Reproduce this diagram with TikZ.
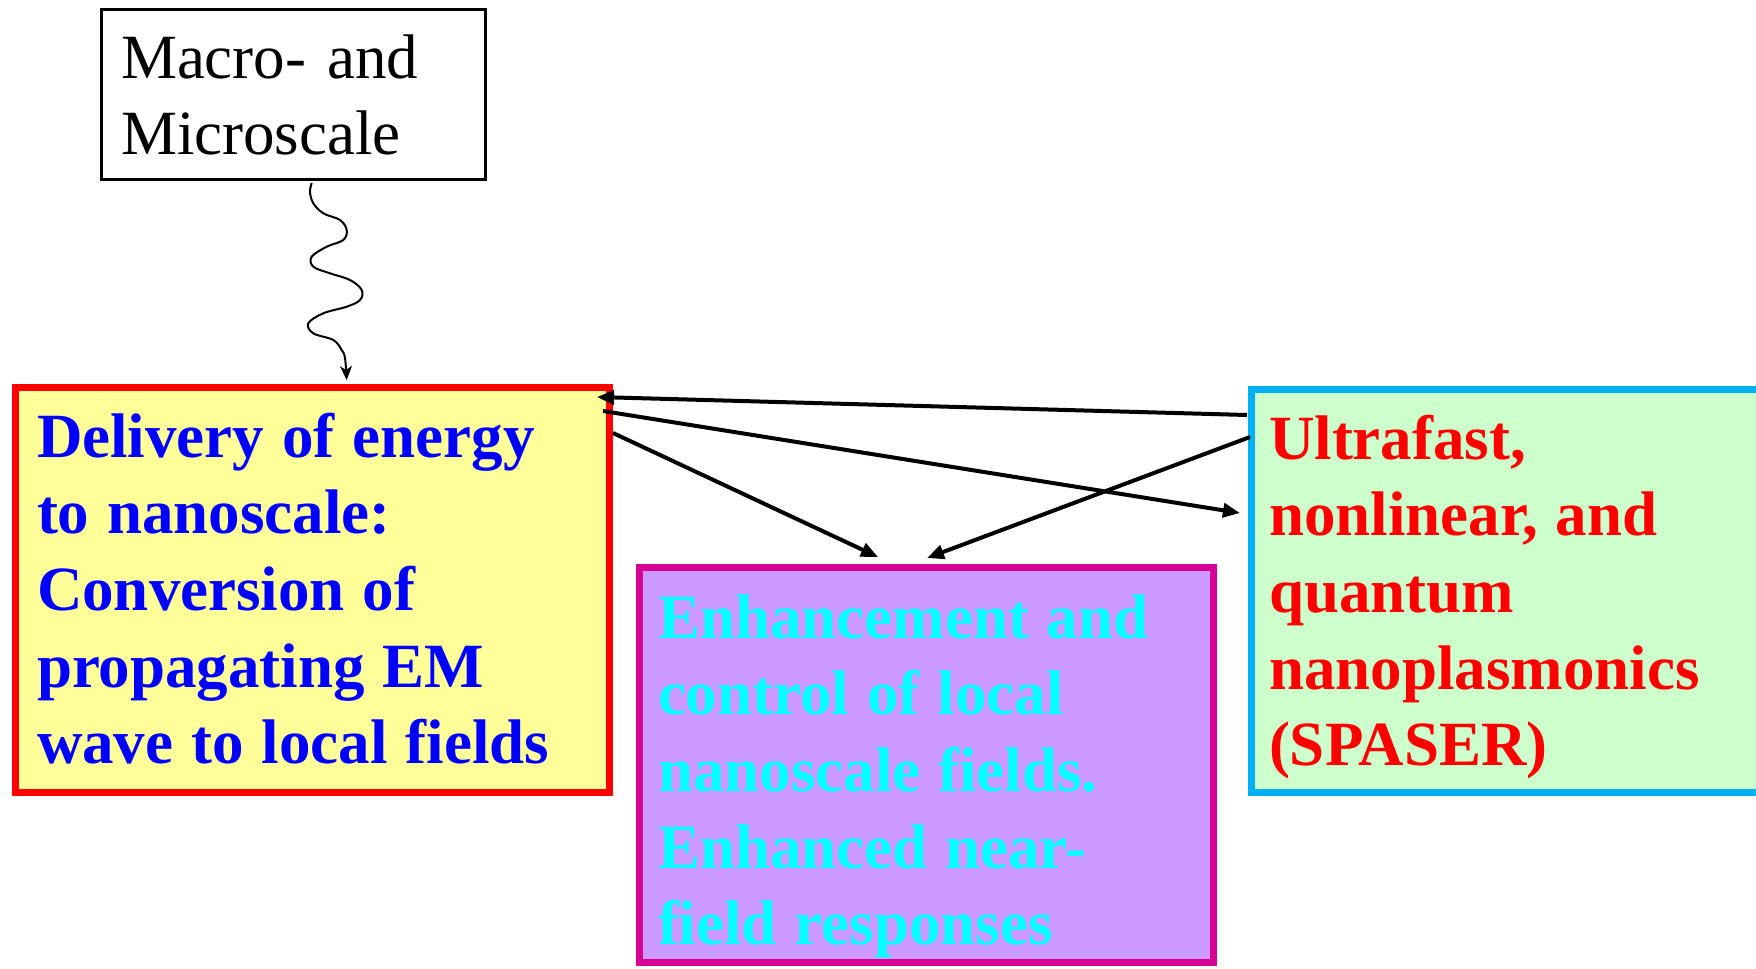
\documentclass[tikz,border=0pt]{standalone}
\usepackage{fontspec}
\setmainfont{Liberation Serif}
\usetikzlibrary{arrows.meta}
\definecolor{yelfill}{HTML}{FFFF99}
\definecolor{redc}{HTML}{FF0000}
\definecolor{bluec}{HTML}{0000FF}
\definecolor{purfill}{HTML}{CC99FF}
\definecolor{magc}{HTML}{D60093}
\definecolor{cyanc}{HTML}{00FFFF}
\definecolor{grnfill}{HTML}{CCFFCC}
\definecolor{skyc}{HTML}{00B0F0}
\newcommand\tightsp{\spaceskip=17.9pt\relax\xspaceskip=17.9pt\relax}
\tikzset{
  boxshape/.style={rectangle, anchor=north west, inner sep=0pt},
  txt/.style={anchor=base west, inner sep=0pt, outer sep=0pt, text width=900pt, align=left,
    font=\fontsize{63}{76.7}\selectfont},
  btxt/.style={txt, font=\bfseries\fontsize{63}{76.7}\selectfont},
  conn/.style={draw=black, line width=4pt, -{Triangle[length=17pt,width=14pt]}},
  wavy/.style={draw=black, line width=2pt, -{Stealth[length=14pt,width=12pt,inset=4pt]}}
}
\begin{document}
\begin{tikzpicture}[x=1pt,y=-1pt]
\useasboundingbox (0,0) rectangle (1756,969);
% boxes
\node[boxshape, draw=black, line width=3pt, minimum width=384pt, minimum height=170pt] (mac) at (100,8) {};
\node[boxshape, draw=redc, fill=yelfill, line width=7pt, minimum width=594pt, minimum height=405pt] (yel) at (12,384) {};
\node[boxshape, draw=magc, fill=purfill, line width=7pt, minimum width=574pt, minimum height=395pt] (pur) at (636,564) {};
\node[boxshape, draw=skyc, fill=grnfill, line width=7pt, minimum width=640pt, minimum height=403pt] (grn) at (1248,386) {};
% texts
\node[txt] (mact) at (121,78) {Macro- and\\Microscale};
\node[btxt, text=bluec] (yelt) at (37,457) {\tightsp Delivery of energy\\to nanoscale:\\Conversion of\\propagating EM\\wave to local fields};
\node[btxt, text=cyanc] (purt) at (658,638) {\tightsp Enhancement and\\control of local\\nanoscale fields.\\Enhanced near-\\field responses};
\node[btxt, text=redc] (grnt) at (1269,459) {\tightsp Ultrafast,\\nonlinear, and\\quantum\\nanoplasmonics\\(SPASER)};
% connector end points
\coordinate (g1) at (1247,415);
\coordinate (y1) at (597,397);
\coordinate (y2) at (603,411);
\coordinate (g2) at (1240,513);
\coordinate (y3) at (613,433);
\coordinate (p3) at (878,557);
\coordinate (g4) at (1250,437);
\coordinate (p4) at (927,558);
\draw[conn] (g1) -- (y1);
\draw[conn] (y2) -- (g2);
\draw[conn] (y3) -- (p3);
\draw[conn] (g4) -- (p4);
% wavy arrow
\coordinate (ws) at (311.7,183);
\coordinate (we) at (346.7,380);
\draw[wavy] plot[smooth, tension=0.6] coordinates {(ws) (310,192) (313.3,203.3) (323.3,213.3) (340,220) (346.7,230) (343.3,240) (326.7,246.7) (311.7,256.7) (313.3,266.7) (330,273.3) (350,280) (361.7,290) (360,300) (346.7,306.7) (323.3,313.3) (308.3,323.3) (313.3,333.3) (333.3,340) (341.7,350) (345,358) (we)};
\end{tikzpicture}
\end{document}
